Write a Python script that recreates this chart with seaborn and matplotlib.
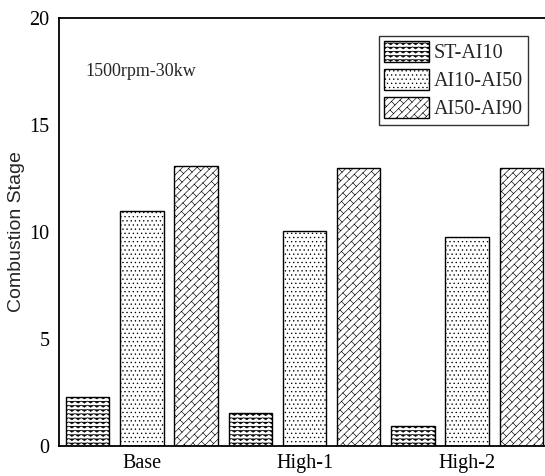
import warnings
import numpy as np
import pandas as pd
import matplotlib
matplotlib.use("Agg")
import matplotlib.pyplot as plt
import matplotlib.hatch as mhatch
from matplotlib.path import Path
from matplotlib.patches import Patch
import seaborn as sns

warnings.filterwarnings("ignore")

# ---- data -------------------------------------------------------------
conditions = ["Base", "High-1", "High-2"]
stages = ["ST-AI10", "AI10-AI50", "AI50-AI90"]
st_ai10 = [2.3, 1.55, 0.92]
ai10_ai50 = [11.0, 10.05, 9.75]
ai50_ai90 = [13.1, 13.0, 13.0]
y_ticks = [0, 5, 10, 15, 20]
note = "1500rpm-30kw"


# ---- custom hatch patterns (wavy rows and diagonal bricks) -------------
class ZigZagHatch(mhatch.HatchPatternBase):
    def __init__(self, hatch, density):
        self.rows = int(hatch.count("z") * density)
        self.teeth = max(1, int(self.rows * 0.7))
        self.num_vertices = self.rows * (2 * self.teeth + 1) if self.rows else 0

    def set_vertices_and_codes(self, vertices, codes):
        n, m = self.rows, self.teeth
        k = 2 * m + 1
        xs = np.linspace(0.0, 1.0, k)
        amp = 0.25 / n
        sign = np.where(np.arange(k) % 2 == 0, 1.0, -1.0)
        for i in range(n):
            y = (i + 0.5) / n
            vertices[i * k:(i + 1) * k, 0] = xs
            vertices[i * k:(i + 1) * k, 1] = y + amp * sign
            codes[i * k] = Path.MOVETO
            codes[i * k + 1:(i + 1) * k] = Path.LINETO


class BrickHatch(mhatch.HatchPatternBase):
    def __init__(self, hatch, density):
        n = int(hatch.count("b") * density)
        segs = []
        if n:
            n = max(4, (n // 4) * 4)
            m = max(1, n // 5)
            # long "/" lines: x - y = c, spacing 2/n
            cs = np.arange(-n, n + 1) * (2.0 / n)
            for c in cs:
                segs.append(((c - 1.0, -1.0), (c + 2.0, 2.0)))
            # short "\" joints between neighbouring lines, staggered
            L = 1.0 / m
            for j, c in enumerate(cs[:-1]):
                off = 0.0 if j % 2 == 0 else L / 2
                for s in np.arange(-3.0, 3.0 + 1e-9, L) + off:
                    x0 = (s + c) / 2.0
                    y0 = (s - c) / 2.0
                    if -0.6 < x0 < 1.6 and -0.6 < y0 < 1.6:
                        segs.append(((x0, y0), (x0 + 1.0 / n, y0 - 1.0 / n)))
        self.segs = segs
        self.num_vertices = 2 * len(segs)

    def set_vertices_and_codes(self, vertices, codes):
        for i, (a, b) in enumerate(self.segs):
            vertices[2 * i] = a
            vertices[2 * i + 1] = b
            codes[2 * i] = Path.MOVETO
            codes[2 * i + 1] = Path.LINETO


mhatch._hatch_types.append(ZigZagHatch)
mhatch._hatch_types.append(BrickHatch)

hatches = ["zzzz", "....", "bbbbb"]

# ---- long-form table ---------------------------------------------------
df = pd.DataFrame({
    "Condition": np.repeat(conditions, len(stages)),
    "Stage": stages * len(conditions),
    "Value": [v for trio in zip(st_ai10, ai10_ai50, ai50_ai90) for v in trio],
})

sns.set_theme(style="white")
plt.rcParams["font.family"] = ["Liberation Serif", "DejaVu Serif"]
plt.rcParams["hatch.linewidth"] = 0.45
plt.rcParams["hatch.color"] = "black"

fig = plt.figure(figsize=(5.45, 4.76), dpi=100)
ax = fig.add_axes([59 / 545, 30 / 476, 489.4 / 545, 428 / 476])

sns.barplot(data=df, x="Condition", y="Value", hue="Stage",
            order=conditions, hue_order=stages,
            width=1.0, gap=0.197, ax=ax, legend=False,
            edgecolor="black", linewidth=1.0)

for cont, h in zip(ax.containers, hatches):
    for bar in cont:
        bar.set_facecolor("white")
        bar.set_edgecolor("black")
        bar.set_hatch(h)

ax.set_xlim(-0.51, 2.5)
ax.set_ylim(0, 20)
ax.set_yticks(y_ticks)
ax.set_yticklabels([str(t) for t in y_ticks])
ax.tick_params(axis="both", length=0, labelsize=14.5, colors="black")
ax.tick_params(axis="y", pad=7)
ax.tick_params(axis="x", pad=6)
ax.set_xlabel("")
ax.set_ylabel("Combustion Stage", fontsize=14,
              family=["Liberation Sans", "DejaVu Sans"], labelpad=3)

for side in ["left", "bottom", "top", "right"]:
    ax.spines[side].set_visible(True)
    ax.spines[side].set_color("black")
    ax.spines[side].set_linewidth(1.3)

ax.text(85 / 545, 1 - 72 / 476, note, transform=fig.transFigure,
        fontsize=13, va="center", ha="left")

handles = [Patch(facecolor="white", edgecolor="black", hatch=h, linewidth=1.0)
           for h in hatches]
leg = ax.legend(handles, stages, loc="upper left",
                bbox_to_anchor=(379 / 545, 1 - 36 / 476),
                bbox_transform=fig.transFigure,
                fontsize=14.5, frameon=True, fancybox=False, shadow=False,
                handlelength=2.25, handleheight=1.2, labelspacing=0.3,
                handletextpad=0.2, borderpad=0.25, borderaxespad=0)
leg.get_frame().set_edgecolor("black")
leg.get_frame().set_linewidth(1.0)

fig.savefig("out.png", dpi=100)
